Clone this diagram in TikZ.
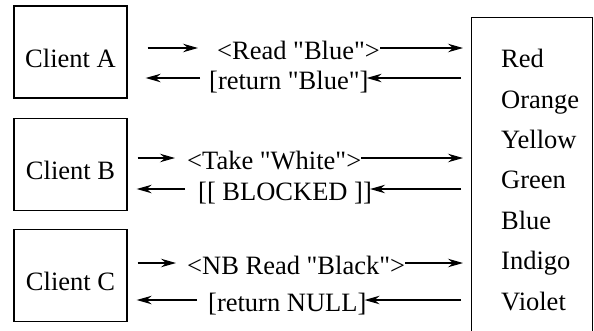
\documentclass[tikz,border=0pt]{standalone}
\usepackage{fontspec}
\setmainfont{Liberation Serif}[Ligatures=TeXOff]
\usetikzlibrary{arrows.meta}
\begin{document}
\begin{tikzpicture}[x=1pt,y=-1pt,
  font=\fontsize{26.5}{30}\selectfont,
  box/.style={draw, line width=1.4pt, inner sep=0pt, minimum width=113pt, minimum height=92pt, text height=30pt, text depth=0pt},
  msg/.style={anchor=west, inner sep=0pt, text height=22pt, text depth=0pt},
  item/.style={anchor=base west, inner sep=0pt},
  arr/.style={line width=1.2pt, -{Stealth[length=15pt,width=8.5pt,inset=5pt]}}]
\useasboundingbox (0,0) rectangle (594,330);
\clip (0,0) rectangle (594,330);

% clients
\node[box] (cA) at (70.5,52) {Client A};
\node[box] (cB) at (70.5,164.5) {Client B};
\node[box] (cC) at (70.5,275.5) {Client C};

% server
\node[draw, line width=1.4pt, inner sep=0pt, minimum width=121pt, minimum height=340pt, anchor=north west] (S) at (471,17) {};
\node[item] (i1) at (501,67.7) {Red};
\node[item] (i2) at (501,108.1) {Orange};
\node[item] (i3) at (501,148.5) {Yellow};
\node[item] (i4) at (501,188.9) {Green};
\node[item] (i5) at (501,229.3) {Blue};
\node[item] (i6) at (501,269.7) {Indigo};
\node[item] (i7) at (501,310.1) {Violet};

% messages
\node[msg] (qA) at (217,48) {<Read "Blue">};
\node[msg] (rA) at (209,78) {[return "Blue"]};
\node[msg] (qB) at (187,158) {<Take "White">};
\node[msg] (rB) at (198,189) {[[ BLOCKED ]]};
\node[msg] (qC) at (187,263) {<NB Read "Black">};
\node[msg] (rC) at (208,300) {[return NULL]};

% Client A
\draw[arr, shorten <=20pt, shorten >=19pt] (qA.west -| cA.east) -- (qA.west);
\draw[arr, shorten >=8pt] (qA.east) -- (qA.east -| S.west);
\draw[arr, shorten <=10pt, shorten >=-2pt] (rA.east -| S.west) -- (rA.east);
\draw[arr, shorten <=9pt, shorten >=18pt] (rA.west) -- (rA.west -| cA.east);

% Client B
\draw[arr, shorten <=10pt, shorten >=12pt] (qB.west -| cB.east) -- (qB.west);
\draw[arr, shorten >=8pt] (qB.east) -- (qB.east -| S.west);
\draw[arr, shorten <=10pt, shorten >=-2pt] (rB.east -| S.west) -- (rB.east);
\draw[arr, shorten <=13pt, shorten >=9pt] (rB.west) -- (rB.west -| cB.east);

% Client C
\draw[arr, shorten <=10pt, shorten >=11pt] (qC.west -| cC.east) -- (qC.west);
\draw[arr, shorten >=8pt] (qC.east) -- (qC.east -| S.west);
\draw[arr, shorten <=10pt, shorten >=-2pt] (rC.east -| S.west) -- (rC.east);
\draw[arr, shorten <=11pt, shorten >=9pt] (rC.west) -- (rC.west -| cC.east);
\end{tikzpicture}
\end{document}
